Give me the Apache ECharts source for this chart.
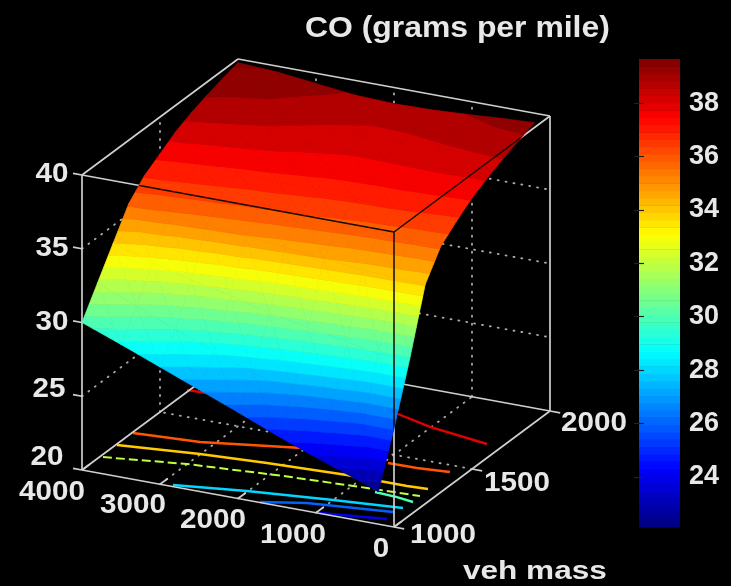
<!DOCTYPE html>
<html><head><meta charset="utf-8">
<style>html,body{margin:0;background:#000}#main{width:731px;height:586px;filter:blur(0.6px)}</style>
<script src="https://cdn.jsdelivr.net/npm/echarts@6/dist/echarts.min.js"></script>
</head><body><div id="main"></div>
<script>
// ---- tick labels
const xTicks = [0, 1000, 2000, 3000, 4000];
const massTicks = [1000, 1500, 2000];
const zTicks = [20, 25, 30, 35, 40];
const barTicks = [24, 26, 28, 30, 32, 34, 36, 38];
const titleText = 'CO (grams per mile)';
const massName = 'veh mass';
// ---- surface: CO (z) along veh mass, one list per x value
const massGrid = [1000, 1100, 1200, 1300, 1400, 1500, 1600, 1700, 1800, 1900, 2000];
const xGrid = [200, 600, 1000, 1500, 2000, 2500, 3000, 3500, 4000];
const zAt200  = [22.2, 25.7, 29.6, 33.9, 35.7, 36.6, 37.4, 38.0, 38.5, 38.95, 39.35];
const zAt600  = [23.0, 25.6, 29.6, 34.0, 35.75, 36.7, 37.45, 38.0, 38.45, 38.9, 39.25];
const zAt1000 = [23.75, 26.2, 30.0, 34.1, 35.85, 36.8, 37.5, 38.0, 38.4, 38.75, 39.1];
const zAt1500 = [24.75, 26.9, 30.5, 34.4, 36.0, 36.85, 37.5, 37.95, 38.3, 38.65, 38.95];
const zAt2000 = [25.85, 27.7, 31.0, 34.65, 36.2, 36.95, 37.55, 37.95, 38.3, 38.6, 38.9];
const zAt2500 = [26.9, 28.7, 31.7, 34.95, 36.35, 37.1, 37.7, 38.1, 38.45, 38.75, 39.0];
const zAt3000 = [27.95, 29.7, 32.3, 35.2, 36.5, 37.2, 37.85, 38.35, 38.7, 39.0, 39.3];
const zAt3500 = [29.0, 30.8, 33.0, 35.45, 36.65, 37.35, 38.0, 38.5, 38.9, 39.3, 39.6];
const zAt4000 = [30.0, 31.9, 33.8, 35.7, 36.8, 37.5, 38.2, 38.7, 39.1, 39.45, 39.75];
const surface = [zAt200, zAt600, zAt1000, zAt1500, zAt2000, zAt2500, zAt3000, zAt3500, zAt4000];
// ---- floor contours: [x, veh mass]
const contour38a = [[4027, 1686], [3779, 1691]];
const contour38b = [[1523, 1787], [1014, 1738], [192, 1692]];
const contour36a = [[3987, 1321], [3173, 1343], [2040, 1430]];
const contour36b = [[948, 1435], [580, 1437], [185, 1451]];
const contour34 = [[3986, 1217], [3007, 1260], [2193, 1282], [1203, 1300], [434, 1300], [176, 1306]];
const contour32 = [[3964, 1116], [3002, 1174], [1848, 1213], [818, 1236], [161, 1247]];
const contour30 = [[680, 1218], [384, 1211], [150, 1197]];
const contour28 = [[2856, 1011], [2011, 1063], [1001, 1110], [170, 1143]];
const contour26 = [[1725, 1004], [1228, 1056], [218, 1103]];
const contour24 = [[955, 1003], [183, 1046]];
const contours = [
  [38, contour38a], [38, contour38b], [36, contour36a], [36, contour36b], [34, contour34],
  [32, contour32], [30, contour30], [28, contour28], [26, contour26], [24, contour24]
];

// ---- orthographic view of the box, in page pixels
const ORIGIN = [394, 527];
const PER_X = [-312 / 4000, -57 / 4000];
const PER_MASS = [156 / 1000, -116 / 1000];
const PER_Z = -14.75;
const C_MIN = 22.12, C_MAX = 39.66, SURF_LEVELS = 30, BAR_LEVELS = 64;
const X0 = 0, X1 = 4000, M0 = 1000, M1 = 2000, Z0 = 20, Z1 = 40;

function jet(t) {
  const c = v => Math.max(0, Math.min(1, v));
  const r = c(Math.min(4 * t - 1.5, -4 * t + 4.5));
  const g = c(Math.min(4 * t - 0.5, -4 * t + 3.5));
  const b = c(Math.min(4 * t + 0.5, -4 * t + 2.5));
  return `rgb(${Math.round(r * 255)},${Math.round(g * 255)},${Math.round(b * 255)})`;
}
const zColor = z => jet(Math.max(0, Math.min(1, (z - C_MIN) / (C_MAX - C_MIN))));
function page(x, m, z) {
  return [ORIGIN[0] + x * PER_X[0] + (m - M0) * PER_MASS[0],
          ORIGIN[1] + x * PER_X[1] + (m - M0) * PER_MASS[1] + (z - Z0) * PER_Z];
}
function clip(poly, level, keepAbove) {
  const out = [];
  for (let i = 0; i < poly.length; i++) {
    const a = poly[i], b = poly[(i + 1) % poly.length];
    const ina = keepAbove ? a[2] >= level : a[2] <= level;
    const inb = keepAbove ? b[2] >= level : b[2] <= level;
    if (ina) out.push(a);
    if (ina !== inb) {
      const t = (level - a[2]) / (b[2] - a[2]);
      out.push([a[0] + t * (b[0] - a[0]), a[1] + t * (b[1] - a[1]), level]);
    }
  }
  return out;
}
// ---- marks
const cells = [];
for (let i = 0; i < xGrid.length - 1; i++) for (let j = 0; j < massGrid.length - 1; j++) cells.push([i, j]);
const outlineW = [];
massGrid.forEach((m, j) => outlineW.push([xGrid[0], m, surface[0][j]]));
xGrid.forEach((x, i) => outlineW.push([x, M1, surface[i][massGrid.length - 1]]));
massGrid.slice().reverse().forEach((m, j) => outlineW.push([X1, m, surface[xGrid.length - 1][massGrid.length - 1 - j]]));
xGrid.slice().reverse().forEach((x, i) => outlineW.push([x, M0, surface[xGrid.length - 1 - i][0]]));
const dotted = [], solid = [];
const seg = (list, a, b) => list.push([...a, ...b]);
zTicks.slice(1, -1).forEach(z => {
  seg(dotted, [X1, M0, z], [X1, M1, z]);
  seg(dotted, [X1, M1, z], [X0, M1, z]);
});
xTicks.slice(1, -1).forEach(x => {
  seg(dotted, [x, M0, Z0], [x, M1, Z0]);
  seg(dotted, [x, M1, Z0], [x, M1, Z1]);
});
massTicks.slice(1, -1).forEach(m => {
  seg(dotted, [X0, m, Z0], [X1, m, Z0]);
  seg(dotted, [X1, m, Z0], [X1, m, Z1]);
});
// box
[[[X1, M0, Z1], [X1, M1, Z1]], [[X1, M1, Z1], [X0, M1, Z1]], [[X1, M0, Z1], [X1, M0, Z0]], [[X0, M1, Z1], [X0, M1, Z0]],
 [[X1, M0, Z0], [X0, M0, Z0]], [[X0, M0, Z0], [X0, M1, Z0]], [[X1, M0, Z0], [X1, M1, Z0]], [[X1, M1, Z0], [X0, M1, Z0]],
 [[X1, M0, Z1], [X0, M0, Z1]], [[X0, M0, Z1], [X0, M1, Z1]], [[X0, M0, Z1], [X0, M0, Z0]]
].forEach(e => seg(solid, e[0], e[1]));
xTicks.forEach(x => seg(solid, [x, M0, Z0], [x, M0 + 50, Z0]));
massTicks.forEach(m => seg(solid, [X0, m, Z0], [-130, m, Z0]));
zTicks.forEach(z => seg(solid, [X1, M0, z], [X1 + 115, M0, z]));
const frontEdges = [];
[[[X1, M0, Z1], [X0, M0, Z1]], [[X0, M0, Z1], [X0, M1, Z1]], [[X0, M0, Z1], [X0, M0, Z0]]].forEach(e => seg(frontEdges, e[0], e[1]));

const FAMILY = '"Liberation Sans", Arial, sans-serif';
const INK = '#e8e8e8';
const zLabelPlace = [[47, 457], [49, 389], [52, 322], [52, 248], [52, 174]];
const xLabelPlace = [[381, 549], [293, 535], [213, 520], [133, 505], [52, 492]];
const massLabelPlace = [[443, 535], [517, 483], [594, 423]];
const textRows = [];
zTicks.forEach((v, i) => textRows.push([String(v), ...zLabelPlace[i], 28.5, 1.04, 'center', 'middle']));
xTicks.forEach((v, i) => textRows.push([String(v), ...xLabelPlace[i], 28.5, 1.04, 'center', 'middle']));
massTicks.forEach((v, i) => textRows.push([String(v), ...massLabelPlace[i], 28.5, 1.04, 'center', 'middle']));
textRows.push([titleText, 305, 44, 30, 1.063, 'left', 'bottom']);
textRows.push([massName, 463, 585, 26.5, 1.19, 'left', 'bottom']);
const barBands = [];
for (let k = 0; k < BAR_LEVELS; k++) barBands.push([k]);

const lineSeries = (name, rows, style, extra) => Object.assign({
  name, type: 'custom', coordinateSystem: 'cartesian2d', xAxisIndex: 0, yAxisIndex: 0, clip: false, silent: true, animation: false,
  data: rows,
  renderItem: (p, api) => {
    const a = api.coord(page(api.value(0), api.value(1), api.value(2)));
    const b = api.coord(page(api.value(3), api.value(4), api.value(5)));
    return { type: 'line', shape: { x1: a[0], y1: a[1], x2: b[0], y2: b[1] }, style };
  }
}, extra || {});

const option = {
  backgroundColor: '#000',
  animation: false,
  grid: [
    { left: 0, top: 0, width: 731, height: 586, show: false },
    { left: 639, top: 59, width: 41, height: 468, show: false }
  ],
  xAxis: [
    { type: 'value', gridIndex: 0, min: 0, max: 731, show: false },
    { type: 'value', gridIndex: 1, min: 0, max: 1, show: false }
  ],
  yAxis: [
    { type: 'value', gridIndex: 0, min: 0, max: 586, inverse: true, show: false },
    { type: 'value', gridIndex: 1, min: C_MIN, max: C_MAX, position: 'right', splitLine: { show: false }, axisLine: { show: false },
      axisTick: { show: true, inside: true, length: 5, customValues: barTicks, lineStyle: { color: '#222', width: 1.2 } },
      axisLabel: { show: true, customValues: barTicks, margin: 9, color: INK, fontFamily: FAMILY, fontWeight: 'bold', fontSize: 27 }, z: 5 },
    { type: 'value', gridIndex: 1, min: C_MIN, max: C_MAX, position: 'left', splitLine: { show: false }, axisLine: { show: false },
      axisTick: { show: true, inside: true, length: 5, customValues: barTicks, lineStyle: { color: '#222', width: 1.2 } },
      axisLabel: { show: false }, z: 5 }
  ],
  series: [
    lineSeries('grid', dotted, { stroke: '#ababab', lineWidth: 1.8, lineDash: [1, 7], lineCap: 'round' }),
    {
      name: 'contours', type: 'custom', coordinateSystem: 'cartesian2d', xAxisIndex: 0, yAxisIndex: 0, clip: false, silent: true,
      data: contours.map((c, i) => [i]),
      renderItem: (p, api) => {
        const c = contours[api.value(0)];
        return { type: 'polyline',
          shape: { points: c[1].map(q => api.coord(page(q[0], q[1], Z0))) },
          style: { fill: null, stroke: zColor(c[0]), lineWidth: c[0] === 32 ? 2 : 2.4, lineDash: c[0] === 32 ? [9, 4] : null } };
      }
    },
    lineSeries('box', solid, { stroke: '#cfcfcf', lineWidth: 1.7 }),
    {
      name: 'surface', type: 'custom', coordinateSystem: 'cartesian2d', xAxisIndex: 0, yAxisIndex: 0, clip: false, silent: true,
      data: cells,
      renderItem: (p, api) => {
        const i = api.value(0), j = api.value(1);
        const q = [[xGrid[i], massGrid[j], surface[i][j]], [xGrid[i + 1], massGrid[j], surface[i + 1][j]],
                   [xGrid[i + 1], massGrid[j + 1], surface[i + 1][j + 1]], [xGrid[i], massGrid[j + 1], surface[i][j + 1]]];
        const children = [];
        [[q[0], q[1], q[2]], [q[0], q[2], q[3]]].forEach(tri => {
          const zs = tri.map(v => v[2]);
          const step = (C_MAX - C_MIN) / SURF_LEVELS;
          const k0 = Math.floor((Math.min(...zs) - C_MIN) / step), k1 = Math.floor((Math.max(...zs) - C_MIN) / step);
          for (let k = k0; k <= k1; k++) {
            const lo = C_MIN + k * step;
            const poly = clip(clip(tri, lo, true), lo + step, false);
            if (poly.length < 3) continue;
            const col = zColor(lo + step / 2);
            children.push({ type: 'polygon',
              shape: { points: poly.map(v => api.coord(page(v[0], v[1], v[2]))) },
              style: { fill: col, stroke: col, lineWidth: 0.8 } });
          }
        });
        return { type: 'group', children };
      }
    },
    {
      name: 'front edges', type: 'custom', coordinateSystem: 'cartesian2d', xAxisIndex: 0, yAxisIndex: 0, clip: false, silent: true,
      data: frontEdges,
      renderItem: (p, api) => {
        const a = api.coord(page(api.value(0), api.value(1), api.value(2)));
        const b = api.coord(page(api.value(3), api.value(4), api.value(5)));
        return { type: 'group',
          clipPath: { type: 'polygon', shape: { points: outlineW.map(v => api.coord(page(v[0], v[1], v[2]))) } },
          children: [{ type: 'line', shape: { x1: a[0], y1: a[1], x2: b[0], y2: b[1] }, style: { stroke: '#140800', lineWidth: 1.5 } }] };
      }
    },
    {
      name: 'text', type: 'custom', coordinateSystem: 'cartesian2d', xAxisIndex: 0, yAxisIndex: 0, clip: false, silent: true,
      data: textRows.map((r, i) => [i]),
      renderItem: (p, api) => {
        const r = textRows[api.value(0)];
        const c = api.coord([r[1], r[2]]);
        return { type: 'text', x: c[0], y: c[1], scaleX: r[4], scaleY: 1,
          style: { text: r[0], fill: INK, font: `bold ${r[3]}px ${FAMILY}`, align: r[5], verticalAlign: r[6] } };
      }
    },
    {
      name: 'colorbar', type: 'custom', coordinateSystem: 'cartesian2d', xAxisIndex: 1, yAxisIndex: 1, clip: false, silent: true,
      data: barBands,
      renderItem: (p, api) => {
        const k = api.value(0), step = (C_MAX - C_MIN) / BAR_LEVELS;
        const a = api.coord([0, C_MIN + (k + 1) * step]), b = api.coord([1, C_MIN + k * step]);
        const col = zColor(C_MIN + (k + 0.5) * step);
        return { type: 'rect', shape: { x: a[0], y: a[1], width: b[0] - a[0], height: b[1] - a[1] + 0.5 }, style: { fill: col } };
      }
    }
  ]
};
const chart = echarts.init(document.getElementById('main'), null, { renderer: 'canvas' });
chart.setOption(option);
</script></body></html>
